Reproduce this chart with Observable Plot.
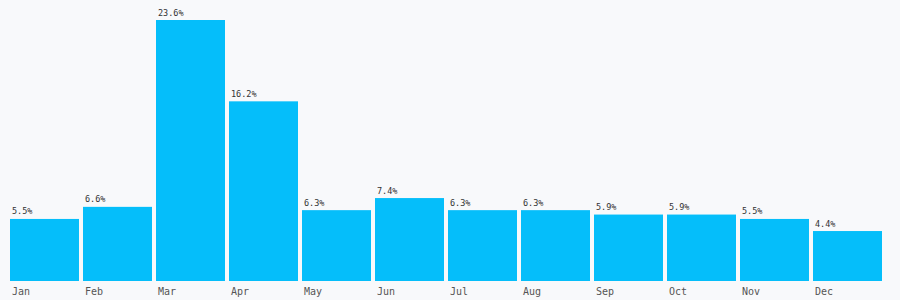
<!DOCTYPE html>
<html>
<head>
<meta charset="utf-8">
<script src="https://cdn.jsdelivr.net/npm/d3@7"></script>
<script src="https://cdn.jsdelivr.net/npm/@observablehq/plot@0.6"></script>
<style>
  html, body { margin: 0; padding: 0; background: #f8f9fb; }
  #chart svg { display: block; background: #f8f9fb; }
</style>
</head>
<body>
<div id="chart"></div>
<script>
const months = ["Jan","Feb","Mar","Apr","May","Jun","Jul","Aug","Sep","Oct","Nov","Dec"];
const shares = [5.5, 6.6, 23.6, 16.2, 6.3, 7.4, 6.3, 6.3, 5.9, 5.9, 5.5, 4.4];

const data = months.map((m, i) => ({month: m, value: shares[i]}));
const bw = 69;

const chart = Plot.plot({
  width: 900,
  height: 300,
  marginLeft: 10,
  marginRight: 18,
  marginTop: 20,
  marginBottom: 20.6,
  style: {background: "#f8f9fb", fontFamily: "'DejaVu Sans Mono', monospace"},
  x: {domain: months, paddingInner: 4 / 73, paddingOuter: 0, axis: null},
  y: {domain: [0, 23.6], axis: null},
  marks: [
    Plot.barY(data, {x: "month", y: "value", fill: "#05befa", insetBottom: -1.6}),
    Plot.text(data, {
      x: "month", y: "value",
      text: d => d.value.toFixed(1) + "%",
      textAnchor: "start", lineAnchor: "bottom",
      dx: -bw / 2 + 1.5, dy: -5,
      fontSize: 8.5, fill: "#333"
    }),
    Plot.text(data, {
      x: "month", text: "month",
      frameAnchor: "bottom",
      textAnchor: "start", lineAnchor: "top",
      dx: -bw / 2 + 1.5, dy: 7.6,
      fontSize: 10, fill: "#555"
    })
  ]
});
document.getElementById("chart").appendChild(chart);
</script>
</body>
</html>
